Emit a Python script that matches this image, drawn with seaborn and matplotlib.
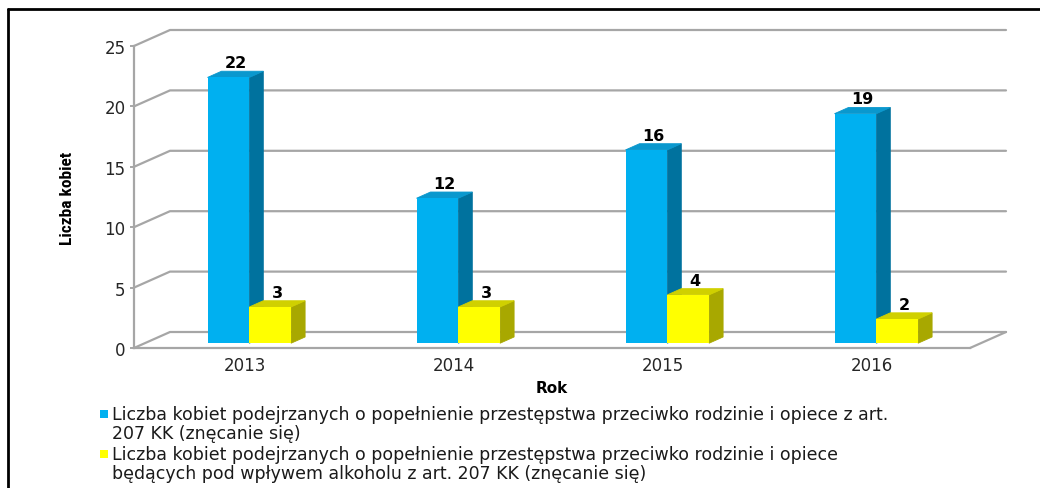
import matplotlib
matplotlib.use("Agg")
import numpy as np
import pandas as pd
import seaborn as sns
import matplotlib.pyplot as plt
from matplotlib.patches import Polygon, Rectangle
from matplotlib.lines import Line2D
from matplotlib.transforms import ScaledTranslation, IdentityTransform
from matplotlib import font_manager

# --- data -------------------------------------------------------------
years = ["2013", "2014", "2015", "2016"]
suspects_total = [22, 12, 16, 19]
suspects_alcohol = [3, 3, 4, 2]
series_labels = [
    "Liczba kobiet podejrzanych o popełnienie przestępstwa przeciwko rodzinie i opiece z art.\n207 KK (znęcanie się)",
    "Liczba kobiet podejrzanych o popełnienie przestępstwa przeciwko rodzinie i opiece\nbędących pod wpływem alkoholu z art. 207 KK (znęcanie się)",
]
y_ticks = [0, 5, 10, 15, 20, 25]

# --- style ------------------------------------------------------------
sns.set_theme(style="white")
plt.rcParams["font.family"] = ["DejaVu Sans"]
available = {f.name for f in font_manager.fontManager.ttflist}
narrow = next((n for n in ["Liberation Sans Narrow", "Roboto Condensed", "Lato"] if n in available), "DejaVu Sans")

W, H = 1040, 489
DPI = 100
fig = plt.figure(figsize=(W / DPI, H / DPI), dpi=DPI)
fig.patch.set_facecolor("white")

# front plane of the 3-D box
ax = fig.add_axes([134 / W, 1 - 349 / H, (970 - 134) / W, (349 - 47) / H])
ax.set_facecolor("none")

front_colors = ["#00B0F0", "#FFFF00"]
side_colors = ["#00729E", "#A8A800"]
top_colors = ["#0A98CE", "#D0D000"]
grid_col = "#A6A6A6"

df = pd.DataFrame({
    "Rok": years * 2,
    "Liczba": suspects_total + suspects_alcohol,
    "Seria": [series_labels[0]] * len(years) + [series_labels[1]] * len(years),
})
sns.barplot(data=df, x="Rok", y="Liczba", hue="Seria", palette=front_colors,
            width=0.4, dodge=True, saturation=1, legend=False,
            edgecolor="none", linewidth=0, ax=ax)
ax.set_xlim(-0.5, 3.5)
ax.set_ylim(0, 25)
ax.set_yticks(y_ticks)
ax.set_xlabel("")
ax.set_ylabel("")

# depth of the box (pixels, display space: y upwards)
DX, DY = 36.0, 16.0
f0, f1 = 0.30, 0.30 + 14.0 / 36.0

def disp(x, y):
    return ax.transData.transform((x, y))

def shift(fx):
    return ScaledTranslation(fx * DX / DPI, fx * DY / DPI, fig.dpi_scale_trans)

ident = IdentityTransform()

# back wall, left wall and floor lines
for yv in y_ticks:
    p = disp(-0.5, yv)
    q = disp(3.5, yv)
    ax.add_line(Line2D([p[0], p[0] + DX, q[0] + DX], [p[1], p[1] + DY, q[1] + DY],
                       transform=ident, color=grid_col, lw=1.6, zorder=0.5, clip_on=False))
p0 = disp(3.5, 0)
ax.add_line(Line2D([p0[0], p0[0] + DX], [p0[1], p0[1] + DY], transform=ident,
                   color=grid_col, lw=1.6, zorder=0.5, clip_on=False))

# extrude the bars
n = len(years)
for i, bar in enumerate(ax.patches):
    s = i // n
    x0, w, h = bar.get_x(), bar.get_width(), bar.get_height()
    xl, yb = disp(x0, 0)
    xr, yt = disp(x0 + w, h)
    z = 2 + s
    side = [(xr + f0 * DX, yb + f0 * DY), (xr + f1 * DX, yb + f1 * DY),
            (xr + f1 * DX, yt + f1 * DY), (xr + f0 * DX, yt + f0 * DY)]
    top = [(xl + f0 * DX, yt + f0 * DY), (xr + f0 * DX, yt + f0 * DY),
           (xr + f1 * DX, yt + f1 * DY), (xl + f1 * DX, yt + f1 * DY)]
    ax.add_patch(Polygon(side, closed=True, transform=ident, facecolor=side_colors[s],
                         edgecolor=side_colors[s], lw=0.6, zorder=z, clip_on=False))
    ax.add_patch(Polygon(top, closed=True, transform=ident, facecolor=top_colors[s],
                         edgecolor=top_colors[s], lw=0.6, zorder=z, clip_on=False))
    bar.set_transform(ax.transData + shift(f0))
    bar.set_zorder(z + 0.1)
    bar.set_clip_on(False)
    # value label above the top face
    lab_off = ScaledTranslation(((f0 + f1) / 2) * DX / DPI, (f1 * DY + 1) / DPI, fig.dpi_scale_trans)
    ax.text(x0 + w / 2, h, f"{int(round(h))}", transform=ax.transData + lab_off,
            ha="center", va="bottom", fontsize=11.5, fontweight="bold", color="black",
            zorder=5, clip_on=False)

# axes styling
for side_name in ["top", "right"]:
    ax.spines[side_name].set_visible(False)
for side_name in ["left", "bottom"]:
    ax.spines[side_name].set_visible(True)
    ax.spines[side_name].set_color(grid_col)
    ax.spines[side_name].set_linewidth(1.6)
ax.tick_params(axis="y", left=True, length=3, width=1.4, color=grid_col,
               labelsize=12, labelcolor="#262626", pad=3)
ax.tick_params(axis="x", bottom=False, length=0, labelsize=12, labelcolor="#262626", pad=6)
for lab in ax.get_xticklabels():
    lab.set_transform(lab.get_transform() + ScaledTranslation(6 / DPI, 0, fig.dpi_scale_trans))

fig.text(552 / W, 1 - 389 / H, "Rok", ha="center", va="center",
         fontsize=11, fontweight="bold", color="black")
fig.text(67 / W, 1 - 198 / H, "Liczba kobiet", rotation=90, ha="center", va="center",
         fontsize=12.5, fontweight="bold", family=[narrow, "DejaVu Sans"], color="black")

# legend
leg_rows = [410, 450]
for lab, col, ytop in zip(series_labels, front_colors, leg_rows):
    fig.add_artist(Rectangle((100 / W, 1 - (ytop + 9) / H), 8 / W, 8 / H,
                             facecolor=col, edgecolor="none", transform=fig.transFigure))
    fig.text(112 / W, 1 - (ytop - 4) / H, lab, ha="left", va="top", fontsize=12.5,
             color="#1a1a1a", linespacing=1.08)

# outer frame
fig.add_artist(Line2D([8 / W, 8 / W], [0, 1 - 10 / H], color="black", lw=2,
                      transform=fig.transFigure))
fig.add_artist(Line2D([8 / W, 1], [1 - 10 / H, 1 - 10 / H], color="black", lw=2,
                      transform=fig.transFigure))

fig.savefig("out.png", dpi=DPI, facecolor="white")
